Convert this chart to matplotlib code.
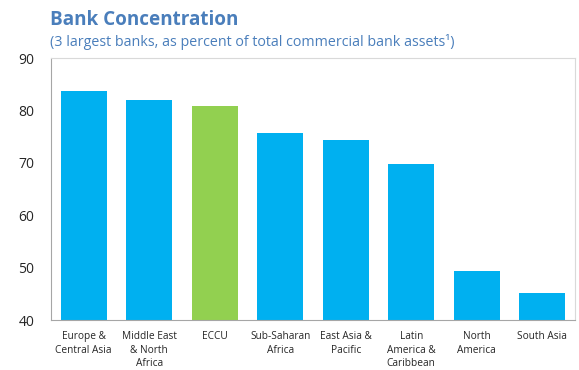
import matplotlib
matplotlib.use("Agg")
import matplotlib.pyplot as plt
import numpy as np

# Dati della figura
categories = [
    "Europe &\nCentral Asia",
    "Middle East\n& North\nAfrica",
    "ECCU",
    "Sub-Saharan\nAfrica",
    "East Asia &\nPacific",
    "Latin\nAmerica &\nCaribbean",
    "North\nAmerica",
    "South Asia",
]
values = [83.7, 82.0, 80.8, 75.7, 74.4, 69.8, 49.4, 45.2]
highlight = "ECCU"
y_ticks = [40, 50, 60, 70, 80, 90]

BLUE = "#00B0F0"
GREEN = "#92D050"
TITLE_COLOR = "#4A7EBB"
TEXT_COLOR = "#262626"

plt.rcParams["font.family"] = ["Open Sans", "DejaVu Sans"]

fig = plt.figure(figsize=(5.79, 3.70), dpi=100)
ax = fig.add_axes([0.088, 0.135, 0.905, 0.708])

x = np.arange(len(categories))
colors = [GREEN if c == highlight else BLUE for c in categories]
ax.bar(x, [v - 40 for v in values], bottom=40, width=0.7, color=colors)

ax.set_xlim(-0.5, len(categories) - 0.5)
ax.set_ylim(40, 90)
ax.set_yticks(y_ticks)
ax.set_yticklabels([str(t) for t in y_ticks], fontsize=10, color=TEXT_COLOR)
ax.set_xticks(x)
ax.set_xticklabels(categories, fontsize=7.3, color=TEXT_COLOR, linespacing=1.3)
ax.tick_params(axis="both", length=0)
ax.tick_params(axis="x", pad=8)
ax.tick_params(axis="y", pad=12)

for side in ["left", "bottom"]:
    ax.spines[side].set_color("#A6A6A6")
for side in ["top", "right"]:
    ax.spines[side].set_color("#D9D9D9")

fig.text(0.086, 0.932, "Bank Concentration", fontsize=13.6, fontweight="bold",
         color=TITLE_COLOR, ha="left", va="baseline")
fig.text(0.086, 0.876, "(3 largest banks, as percent of total commercial bank assets\u00b9)",
         fontsize=10.3, color=TITLE_COLOR, ha="left", va="baseline")

fig.savefig("out.png", dpi=100)
